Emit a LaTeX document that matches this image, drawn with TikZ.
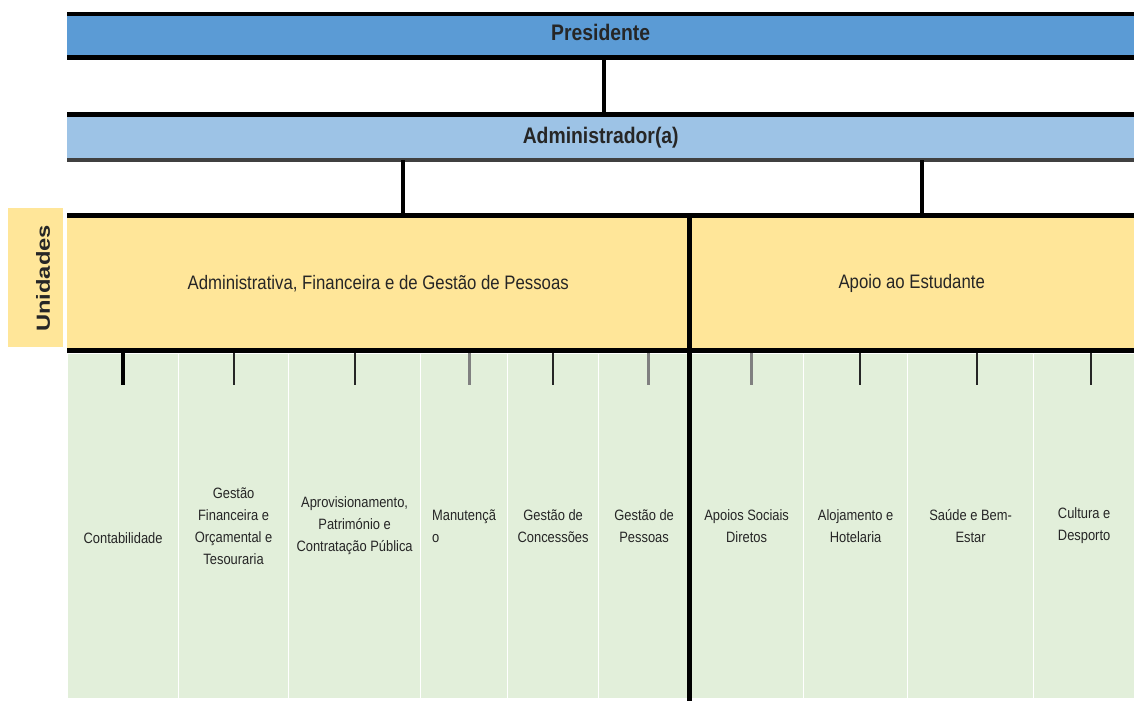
\documentclass[tikz,border=0pt]{standalone}
\usepackage{fontspec}
\setmainfont{Liberation Sans}
\newfontfamily\narrowsf[FakeStretch=0.86]{Liberation Sans}
\newfontfamily\widesf[FakeStretch=1.25]{Liberation Sans}
\usepackage{xcolor}
\usepackage{tikz}
\usetikzlibrary{positioning,calc}
\definecolor{presblue}{HTML}{5B9BD5}
\definecolor{admblue}{HTML}{9DC3E6}
\definecolor{unityellow}{HTML}{FFE699}
\definecolor{cellgreen}{HTML}{E2EFDA}
\tikzset{
  bar/.style={anchor=north west, inner sep=0pt, text=black!85,
    font=\narrowsf\fontsize{22.5}{26}\selectfont\bfseries},
  unitbox/.style={anchor=north west, inner sep=0pt, fill=unityellow, text=black!85,
    minimum height=135pt, font=\narrowsf\fontsize{19.5}{24}\selectfont},
  cell/.style={anchor=north west, inner sep=0pt, fill=cellgreen, draw=white, line width=1.2pt,
    minimum height=345pt, align=center, text=black!85,
    font=\narrowsf\fontsize{15}{22}\selectfont},
  rule/.style={line width=5pt, line cap=butt},
  link/.style={line width=4pt, line cap=butt},
  tick/.style={line width=2pt, black!85},
}

\begin{document}
\begin{tikzpicture}[x=1pt, y=1pt,
  thicktick/.style={tick, line width=4pt, black},
  greytick/.style={tick, line width=3pt, black!50},
]
  \useasboundingbox (0,0) rectangle (1134,-701);

  % top levels
  \node[bar, fill=presblue, minimum width=1067pt, minimum height=43pt, text depth=7pt] (pres) at (67,-14) {Presidente};
  \node[bar, fill=admblue, minimum width=1067pt, minimum height=45.5pt] (admin) at (67,-114.5) {Administrador(a)};
  \draw[rule, line width=4pt] (pres.north west) -- (pres.north east);
  \draw[rule] (pres.south west) -- (pres.south east);
  \draw[rule] (admin.north west) -- (admin.north east);
  \draw[rule, line width=4pt, black!75] (admin.south west) -- (admin.south east);
  \coordinate (j0) at ($(pres.south)+(3.5,0)$);
  \draw[link] (j0) -- (j0 |- admin.north);

  % unidades
  \fill[unityellow] (8,-208) rectangle (63,-347);
  \node[rotate=90, inner sep=0pt, text=black!85, font=\widesf\fontsize{19}{22}\selectfont\bfseries] (uni) at (43,-278.5) {Unidades};
  \node[unitbox, minimum width=622pt] (afg) at (67,-215.5) {Administrativa, Financeira e de Gestão de Pessoas};
  \node[unitbox, minimum width=445pt] (sae) at (689,-215.5) {Apoio ao Estudante};

  \coordinate (j1) at ($(afg.north)+(25,0)$);
  \coordinate (j2) at ($(sae.north)+(10.5,0)$);
  \draw[link] (admin.south -| j1) -- (j1);
  \draw[link] (admin.south -| j2) -- (j2);

  % servicos
  \node[cell, minimum width=111pt, text height=35pt] (cont) at (67,-353) {Contabilidade};
  \node[cell, minimum width=110pt] (gfot) at (178,-353) {Gestão\\Financeira e\\Orçamental e\\Tesouraria};
  \node[cell, minimum width=132pt] (apcp) at (288,-353) {Aprovisionamento,\\Património e\\Contratação Pública};
  \node[cell, minimum width=87pt, align=left, text width=64pt] (manut) at (420,-353) {Manutençã\\o};
  \node[cell, minimum width=91pt] (gconc) at (507,-353) {Gestão de\\Concessões};
  \node[cell, minimum width=91pt] (gpes) at (598,-353) {Gestão de\\Pessoas};
  \node[cell, minimum width=114pt] (ased) at (689,-353) {Apoios Sociais\\Diretos};
  \node[cell, minimum width=104pt] (aloj) at (803,-353) {Alojamento e\\Hotelaria};
  \node[cell, minimum width=126pt] (saude) at (907,-353) {Saúde e Bem-\\Estar};
  \node[cell, minimum width=101pt] (cult) at (1033,-353) {Cultura e\\Desporto};

  \draw[thicktick] (cont.north) -- ++(0,-32);
  \draw[tick] (gfot.north) -- ++(0,-32);
  \draw[tick] (apcp.north) -- ++(0,-32);
  \draw[greytick] ([xshift=5pt]manut.north) -- ++(0,-32);
  \draw[tick] (gconc.north) -- ++(0,-32);
  \draw[greytick] ([xshift=4pt]gpes.north) -- ++(0,-32);
  \draw[greytick] ([xshift=5pt]ased.north) -- ++(0,-32);
  \draw[tick] ([xshift=4pt]aloj.north) -- ++(0,-32);
  \draw[tick] ([xshift=6pt]saude.north) -- ++(0,-32);
  \draw[tick] ([xshift=7pt]cult.north) -- ++(0,-32);

  \draw[rule] (afg.north west) -- (sae.north east);
  \draw[rule] (afg.south west) -- (sae.south east);
  \coordinate (base) at (689,-701);
  \draw[rule] (afg.north east) -- (afg.north east |- base);
\end{tikzpicture}
\end{document}
